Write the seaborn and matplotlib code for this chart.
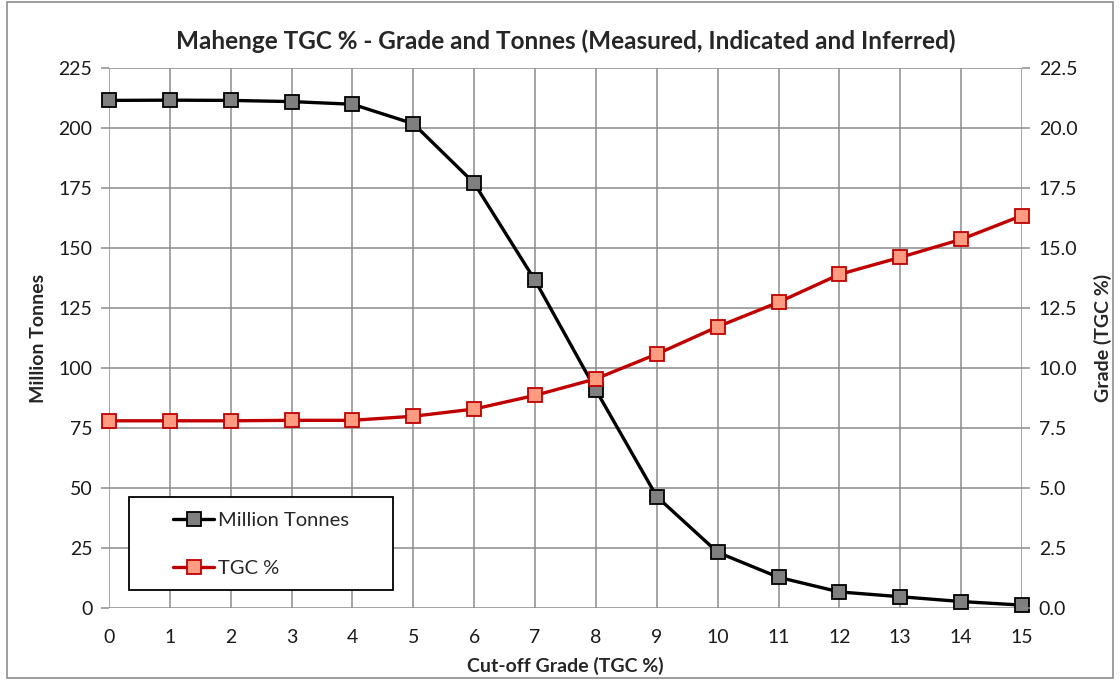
import matplotlib
matplotlib.use("Agg")
import matplotlib.pyplot as plt
import matplotlib.patches as mpatches
from matplotlib.lines import Line2D
import numpy as np
import pandas as pd
import seaborn as sns

# Cut-off grade (TGC %) and the resource at each cut-off
cutoff = [0, 1, 2, 3, 4, 5, 6, 7, 8, 9, 10, 11, 12, 13, 14, 15]
million_tonnes = [211.5, 211.6, 211.5, 211.0, 209.9, 201.8, 177.0, 136.5,
                  90.8, 46.4, 23.2, 12.8, 6.7, 4.7, 2.7, 1.2]
tgc_grade = [7.8, 7.8, 7.8, 7.82, 7.82, 7.99, 8.29, 8.86,
             9.55, 10.58, 11.72, 12.74, 13.9, 14.61, 15.36, 16.35]

title = "Mahenge TGC % - Grade and Tonnes (Measured, Indicated and Inferred)"
x_label = "Cut-off Grade (TGC %)"
left_label = "Million Tonnes"
right_label = "Grade (TGC %)"
series_names = ["Million Tonnes", "TGC %"]

df = pd.DataFrame({"cutoff": cutoff, "tonnes": million_tonnes, "grade": tgc_grade})

sns.set_style("white")
plt.rcParams["font.family"] = ["Lato", "DejaVu Sans"]

GRID = "#8c8c8c"
BLACK_EDGE = "#000000"
GREY_FILL = "#7f7f7f"
RED = "#c00000"
SALMON = "#ff9b80"
W, H = 1120, 680

fig = plt.figure(figsize=(11.2, 6.8), dpi=100)
ax = fig.add_axes([109 / W, 1 - 608 / H, (1022 - 109) / W, (608 - 68) / H])
ax2 = ax.twinx()

line_kw = dict(lw=2.4, marker="s", markersize=10.5, markeredgewidth=1.3)
sns.lineplot(data=df, x="cutoff", y="tonnes", ax=ax, color="black",
             markerfacecolor=GREY_FILL, markeredgecolor=BLACK_EDGE,
             clip_on=False, zorder=5, **line_kw)
sns.lineplot(data=df, x="cutoff", y="grade", ax=ax2, color=RED,
             markerfacecolor=SALMON, markeredgecolor=RED,
             clip_on=False, zorder=5, **line_kw)

ax.set_xlim(0, 15)
ax.set_ylim(0, 225)
ax2.set_ylim(0, 22.5)
ax.set_xticks(cutoff)
ax.set_yticks(np.arange(0, 226, 25))
right_ticks = np.arange(0, 22.6, 2.5)
ax2.set_yticks(right_ticks)
ax2.set_yticklabels([f"{v:.1f}" for v in right_ticks])

ax.grid(True, color=GRID, lw=1.1)
ax.set_axisbelow(True)
for a in (ax, ax2):
    for s in a.spines.values():
        s.set_visible(False)
ax2.grid(False)

ax.tick_params(axis="both", which="both", length=6, width=1.1, color=GRID,
               labelsize=14, labelcolor="#1a1a1a", pad=6)
ax.tick_params(axis="x", pad=9)
ax2.tick_params(axis="y", length=6, width=1.1, color=GRID, labelsize=14,
                labelcolor="#1a1a1a", pad=6)

ax.set_xlabel(x_label, fontsize=14, fontweight="bold", labelpad=8)
ax.set_ylabel(left_label, fontsize=14, fontweight="bold", labelpad=8)
ax2.set_ylabel(right_label, fontsize=14, fontweight="bold", labelpad=12)
ax.set_title(title, fontsize=17.5, fontweight="bold", pad=14)

# legend box drawn as a white panel with a black outline
box = mpatches.Rectangle((129 / W, 1 - 590 / H), (393 - 129) / W, (590 - 497) / H,
                         transform=fig.transFigure, facecolor="white",
                         edgecolor="black", lw=1.3, zorder=9)
ax2.add_artist(box)

handles = [
    Line2D([0], [0], color="black", markerfacecolor=GREY_FILL,
           markeredgecolor=BLACK_EDGE, **line_kw),
    Line2D([0], [0], color=RED, markerfacecolor=SALMON,
           markeredgecolor=RED, **line_kw),
]
leg = ax2.legend(handles, series_names, loc="upper left",
                 bbox_to_anchor=(173 / W, 1 - 512 / H),
                 bbox_transform=fig.transFigure, frameon=False,
                 fontsize=14.5, borderaxespad=0, borderpad=0,
                 labelspacing=1.55, handlelength=2.05, handletextpad=0.2)
leg.set_zorder(10)
if ax.get_legend() is not None:
    ax.get_legend().remove()

# chart-area border
fig.patches.append(mpatches.Rectangle((7 / W, 2 / H), 1106 / W, 676 / H,
                                      transform=fig.transFigure, fill=False,
                                      edgecolor=GRID, lw=1.2))

fig.savefig("out.png", dpi=100)
